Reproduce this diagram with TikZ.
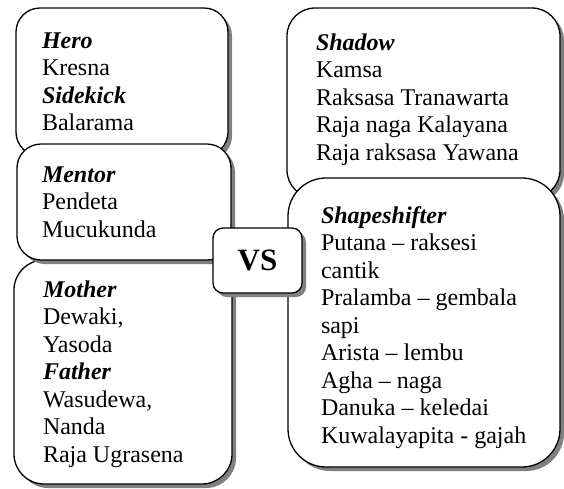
\documentclass[tikz,border=0pt]{standalone}
\usepackage{fontspec}
\setmainfont{Liberation Serif}
\usetikzlibrary{shadows}
\tikzset{
  card/.style={draw=black, line width=1.3pt, fill=white, inner sep=0pt, outer sep=0pt,
    drop shadow={shadow xshift=4pt, shadow yshift=-4pt, fill=black!50, opacity=1}},
  txt/.style={anchor=north west, inner sep=0pt, outer sep=0pt, align=left,
    font=\fontsize{24}{27.5}\selectfont}
}
\newcommand{\hd}[1]{\textbf{\textit{#1}}}
\begin{document}
\begin{tikzpicture}[x=1pt,y=-1pt]
\useasboundingbox (0,0) rectangle (564,488);
% Mother (behind Mentor)
\node[card, rounded corners=30pt, minimum width=218pt, minimum height=224pt] (mother) at (123,372) {};
\node[txt] (mothert) at (43,{297-19.25}) {\strut\hd{Mother}\\Dewaki,\\Yasoda\\\hd{Father}\\Wasudewa,\\Nanda\\Raja Ugrasena};
% Hero
\node[card, rounded corners=24pt, minimum width=212pt, minimum height=148pt] (hero) at (122,82) {};
\node[txt] (herot) at (42,{48-19.25}) {\strut\hd{Hero}\\Kresna\\\hd{Sidekick}\\Balarama};
% Mentor
\node[card, rounded corners=24pt, minimum width=214pt, minimum height=116pt] (mentor) at (124,202) {};
\node[txt] (mentort) at (42,{182-19.25}) {\strut\hd{Mentor}\\Pendeta\\Mucukunda};
% Shadow
\node[card, rounded corners=28pt, minimum width=273pt, minimum height=190pt] (shadow) at (423.5,103) {};
\node[txt] (shadowt) at (316,{50-19.25}) {\strut\hd{Shadow}\\Kamsa\\Raksasa Tranawarta\\Raja naga Kalayana\\Raja raksasa Yawana};
% Shapeshifter
\node[card, rounded corners=38pt, minimum width=272pt, minimum height=289pt] (shape) at (424,322.5) {};
\node[txt] (shapet) at (321,{223-19.25}) {\strut\hd{Shapeshifter}\\Putana -- raksesi\\cantik\\Pralamba -- gembala\\sapi\\Arista -- lembu\\Agha -- naga\\Danuka -- keledai\\Kuwalayapita - gajah};
% VS
\node[card, rounded corners=10pt, minimum width=89pt, minimum height=65pt, font=\fontsize{31}{35}\selectfont\bfseries] (vs) at (257.5,260.5) {VS};
\end{tikzpicture}
\end{document}
